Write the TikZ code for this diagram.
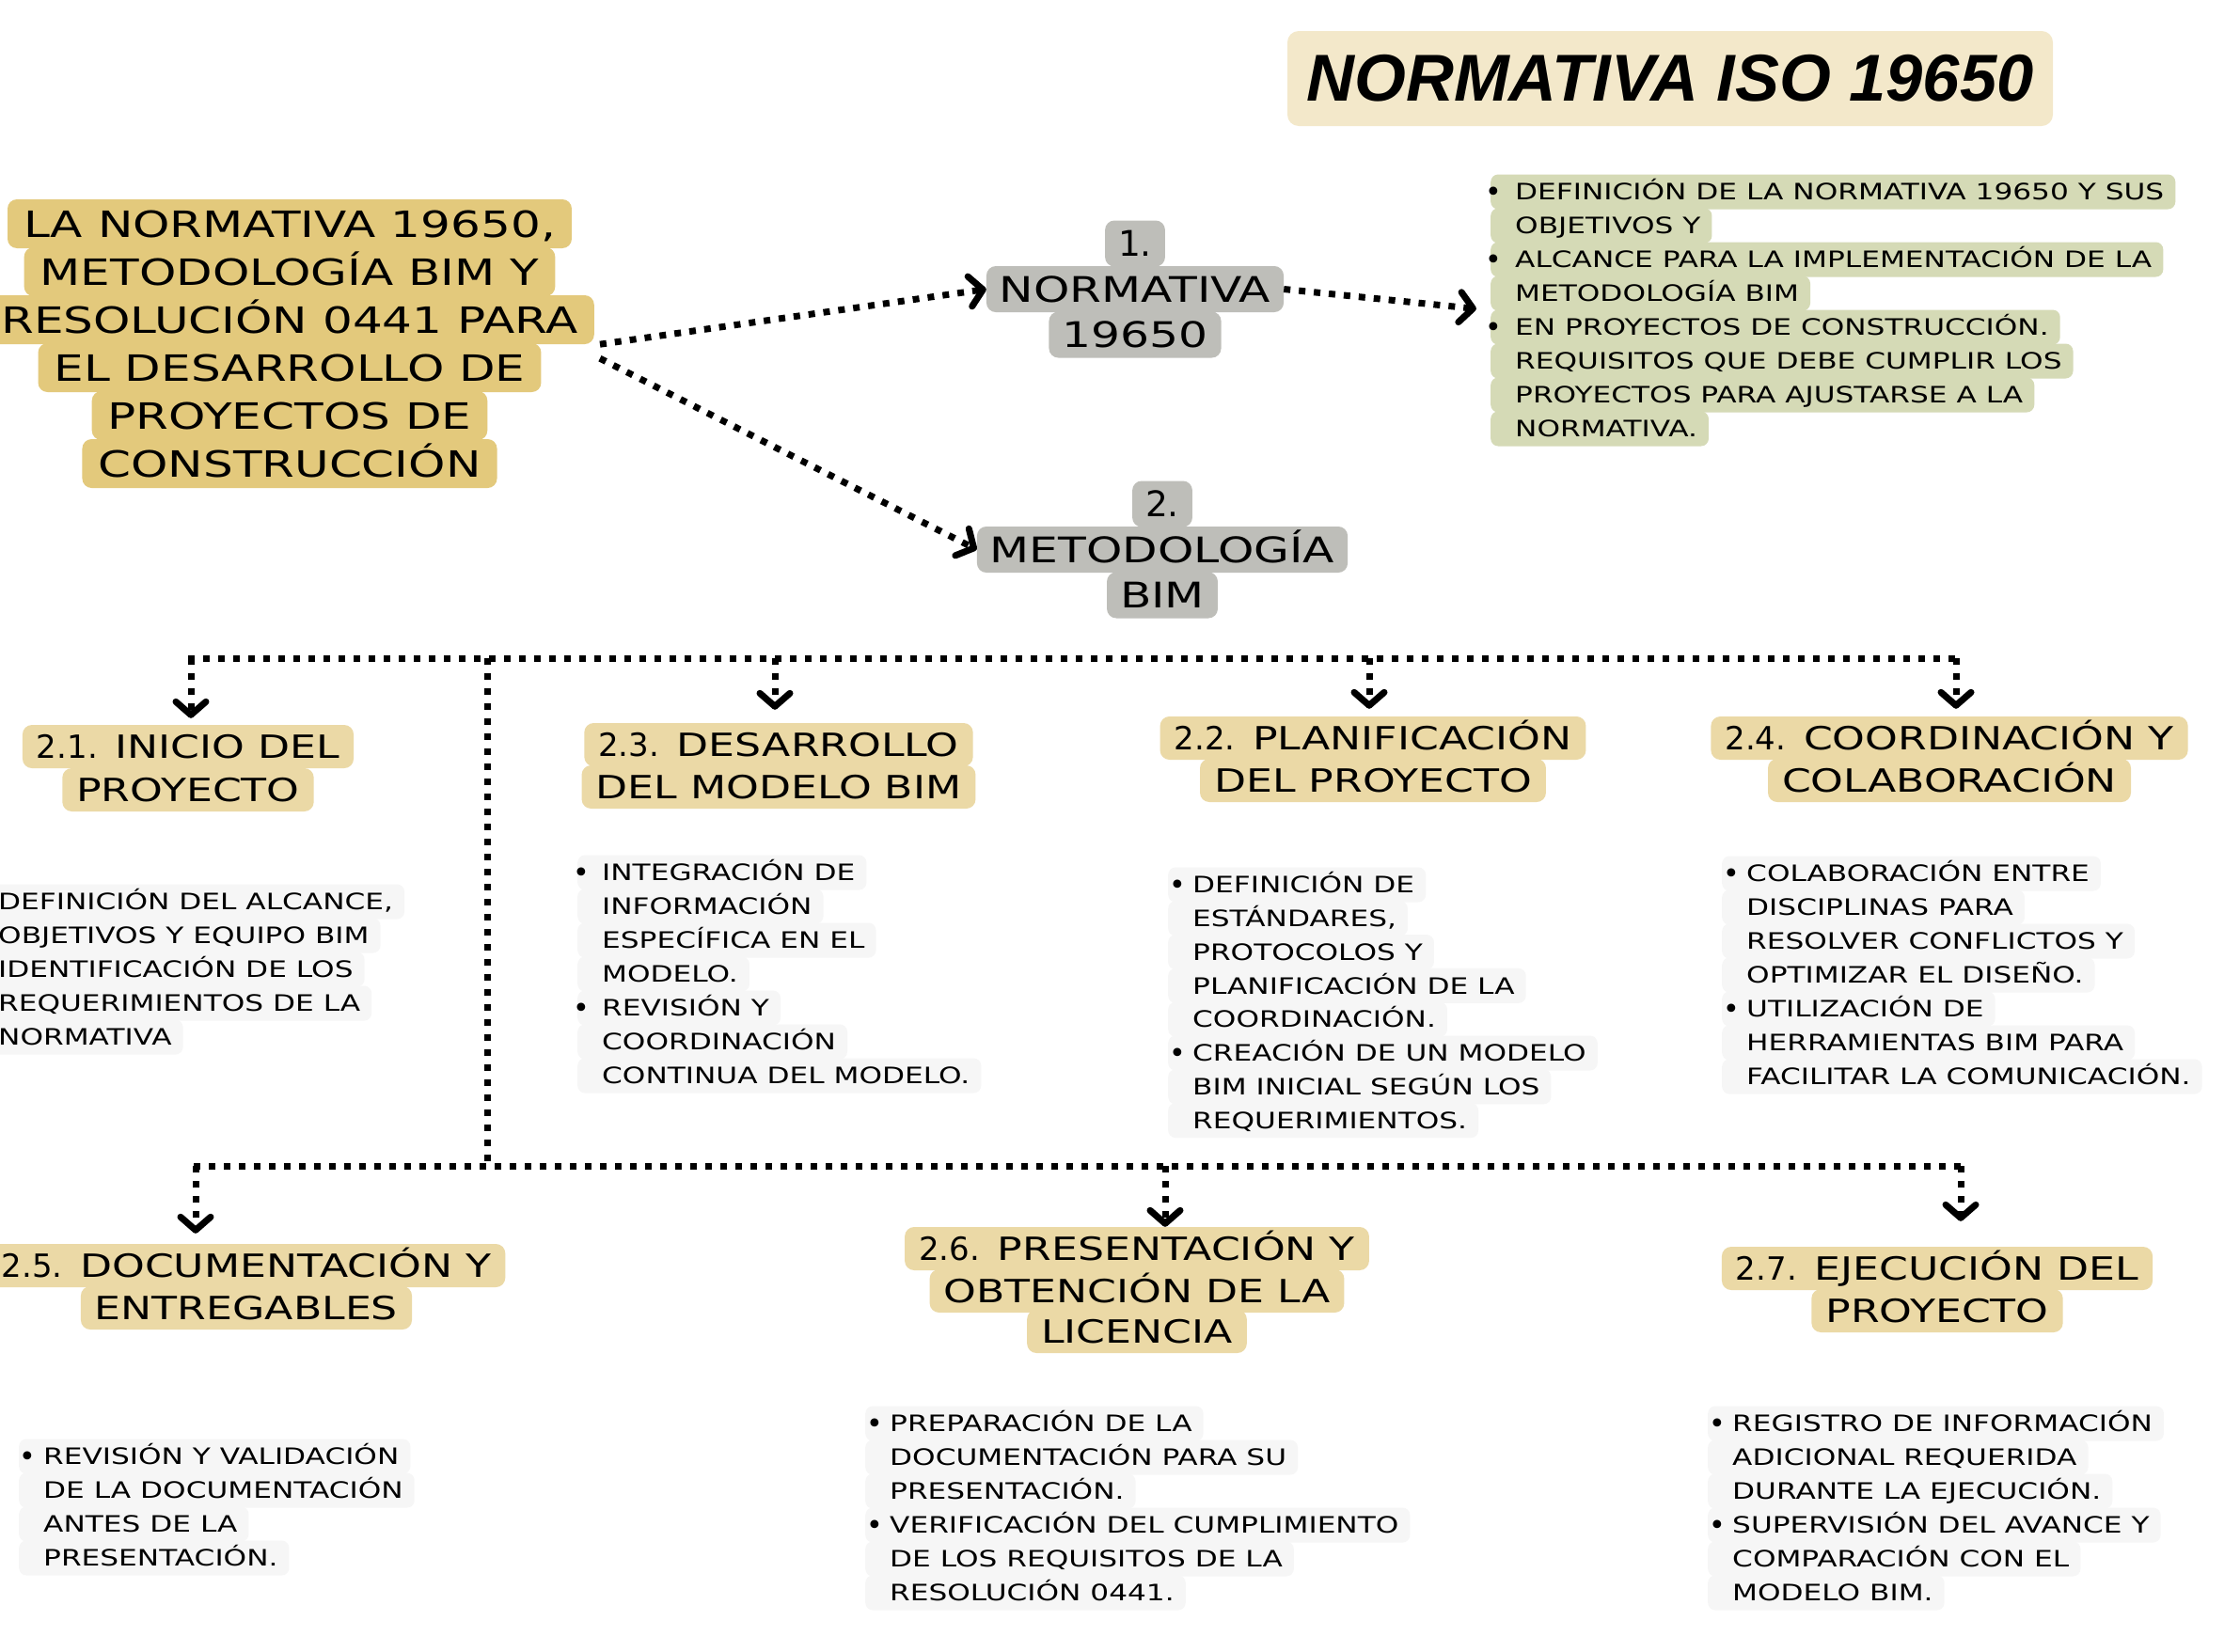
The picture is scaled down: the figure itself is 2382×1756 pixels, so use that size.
\documentclass[tikz,border=0pt]{standalone}
\usepackage{fontspec}
\setmainfont{DejaVu Sans}
\newfontfamily\wf[FakeStretch=1.3]{DejaVu Sans}
\newfontfamily\nf{DejaVu Sans}
\newfontfamily\tf{Liberation Sans}
\usetikzlibrary{arrows.meta,calc,fit}
\definecolor{titlebg}{HTML}{F3E8CA}
\definecolor{maingold}{HTML}{E3C97C}
\definecolor{graybox}{HTML}{BEBEB9}
\definecolor{greenbox}{HTML}{D5DAB6}
\definecolor{subgold}{HTML}{EBD9A6}
\definecolor{lightrow}{HTML}{F6F6F6}
\newcommand{\lrow}[5]{\node[lstrow,fill=#1] (#2) at ({#3-26},#4) {\hspace*{26pt}#5\hspace*{12pt}};}
\newcommand{\bdot}[3]{\node[bul] (#1) at (#2,#3) {•};}
\begin{document}
\begin{tikzpicture}[x=1pt,y=-1pt,
  rowbase/.style={rounded corners=10pt, inner ysep=0pt, text depth=0pt},
  mainrow/.style={rowbase, fill=maingold, inner xsep=17pt, minimum height=52pt, text height=28pt, font=\wf\fontsize{38.5}{40}\selectfont},
  grayrow/.style={rowbase, fill=graybox, inner xsep=14pt, minimum height=49pt, text height=27pt, font=\wf\fontsize{37.5}{40}\selectfont},
  subrow/.style={rowbase, fill=subgold, inner xsep=15pt, minimum height=46pt, text height=24.5pt, font=\wf\fontsize{34}{36}\selectfont},
  lstrow/.style={rowbase, rounded corners=8pt, anchor=west, inner xsep=0pt, minimum height=37pt, text height=17.5pt, font=\wf\fontsize{24}{26}\selectfont},
  bul/.style={inner sep=0pt, yshift=-4pt, font=\fontsize{30}{30}\selectfont},
  conn/.style={line width=7pt, dash pattern=on 7pt off 9pt, -{Straight Barb[length=14pt,width=32pt,round]}},
  trunk/.style={line width=7pt, dash pattern=on 7pt off 9pt},
]
\fill[white] (0,0) rectangle (2382,1756);
\useasboundingbox (0,0) rectangle (2382,1756);

% title
\node[fill=titlebg, rounded corners=12pt, minimum width=814pt, minimum height=101pt, inner sep=0pt,
  font=\tf\bfseries\itshape\fontsize{70.5}{72}\selectfont] (title) at (1776,83.5) {NORMATIVA ISO 19650};

% main node
\node[mainrow] (m1) at (308,238) {LA NORMATIVA 19650,};
\node[mainrow] (m2) at (308,289) {METODOLOGÍA BIM Y};
\node[mainrow] (m3) at (308,340) {RESOLUCIÓN 0441 PARA};
\node[mainrow] (m4) at (308,391) {EL DESARROLLO DE};
\node[mainrow] (m5) at (308,442) {PROYECTOS DE};
\node[mainrow] (m6) at (308,493) {CONSTRUCCIÓN};

% gray nodes
\node[grayrow] (n1a) at (1207,259) {\nf 1.};
\node[grayrow] (n1b) at (1207,307.5) {NORMATIVA};
\node[grayrow] (n1c) at (1207,356) {19650};
\node[grayrow] (n2a) at (1236,536) {\nf 2.};
\node[grayrow] (n2b) at (1236,584.5) {METODOLOGÍA};
\node[grayrow] (n2c) at (1236,633) {BIM};

% green list
\lrow{greenbox}{g1}{1611}{204}{DEFINICIÓN DE LA NORMATIVA 19650 Y SUS}
\lrow{greenbox}{g2}{1611}{240}{OBJETIVOS Y}
\lrow{greenbox}{g3}{1611}{276}{ALCANCE PARA LA IMPLEMENTACIÓN DE LA}
\lrow{greenbox}{g4}{1611}{312}{METODOLOGÍA BIM}
\lrow{greenbox}{g5}{1611}{348}{EN PROYECTOS DE CONSTRUCCIÓN.}
\lrow{greenbox}{g6}{1611}{384}{REQUISITOS QUE DEBE CUMPLIR LOS}
\lrow{greenbox}{g7}{1611}{420}{PROYECTOS PARA AJUSTARSE A LA}
\lrow{greenbox}{g8}{1611}{456}{NORMATIVA.}
\bdot{gb1}{1588}{203}
\bdot{gb3}{1588}{275}
\bdot{gb5}{1588}{347}
\node[fit=(g1)(g8), inner sep=0pt] (gbox) {};

% sub headings
\node[subrow] (h21a) at (200,794) {{\nf 2.1.} INICIO DEL};
\node[subrow] (h21b) at (200,840) {PROYECTO};
\node[subrow] (h23a) at (828,792) {{\nf 2.3.} DESARROLLO};
\node[subrow] (h23b) at (828,837) {DEL MODELO BIM};
\node[subrow] (h22a) at (1460,785) {{\nf 2.2.} PLANIFICACIÓN};
\node[subrow] (h22b) at (1460,830) {DEL PROYECTO};
\node[subrow] (h24a) at (2073,785) {{\nf 2.4.} COORDINACIÓN Y};
\node[subrow] (h24b) at (2073,830) {COLABORACIÓN};
\node[subrow] (h25a) at (262,1346) {{\nf 2.5.} DOCUMENTACIÓN Y};
\node[subrow] (h25b) at (262,1391) {ENTREGABLES};
\node[subrow] (h26a) at (1209,1328) {{\nf 2.6.} PRESENTACIÓN Y};
\node[subrow] (h26b) at (1209,1373) {OBTENCIÓN DE LA};
\node[subrow] (h26c) at (1209,1416) {LICENCIA};
\node[subrow] (h27a) at (2060,1349) {{\nf 2.7.} EJECUCIÓN DEL};
\node[subrow] (h27b) at (2060,1394) {PROYECTO};

% 2.1 list
\lrow{lightrow}{r21a}{-2}{959}{DEFINICIÓN DEL ALCANCE,}
\lrow{lightrow}{r21b}{-2}{995}{OBJETIVOS Y EQUIPO BIM}
\lrow{lightrow}{r21c}{-2}{1031}{IDENTIFICACIÓN DE LOS}
\lrow{lightrow}{r21d}{-2}{1067}{REQUERIMIENTOS DE LA}
\lrow{lightrow}{r21e}{-2}{1103}{NORMATIVA}

% 2.3 list
\lrow{lightrow}{r23a}{640}{928}{INTEGRACIÓN DE}
\lrow{lightrow}{r23b}{640}{964}{INFORMACIÓN}
\lrow{lightrow}{r23c}{640}{1000}{ESPECÍFICA EN EL}
\lrow{lightrow}{r23d}{640}{1036}{MODELO.}
\lrow{lightrow}{r23e}{640}{1072}{REVISIÓN Y}
\lrow{lightrow}{r23f}{640}{1108}{COORDINACIÓN}
\lrow{lightrow}{r23g}{640}{1144}{CONTINUA DEL MODELO.}
\bdot{b23a}{618}{927}
\bdot{b23e}{618}{1071}

% 2.2 list
\lrow{lightrow}{r22a}{1268}{941}{DEFINICIÓN DE}
\lrow{lightrow}{r22b}{1268}{976.8}{ESTÁNDARES,}
\lrow{lightrow}{r22c}{1268}{1012.6}{PROTOCOLOS Y}
\lrow{lightrow}{r22d}{1268}{1048.4}{PLANIFICACIÓN DE LA}
\lrow{lightrow}{r22e}{1268}{1084.2}{COORDINACIÓN.}
\lrow{lightrow}{r22f}{1268}{1120}{CREACIÓN DE UN MODELO}
\lrow{lightrow}{r22g}{1268}{1155.8}{BIM INICIAL SEGÚN LOS}
\lrow{lightrow}{r22h}{1268}{1191.6}{REQUERIMIENTOS.}
\bdot{b22a}{1252}{940}
\bdot{b22f}{1252}{1119}

% 2.4 list
\lrow{lightrow}{r24a}{1857}{929}{COLABORACIÓN ENTRE}
\lrow{lightrow}{r24b}{1857}{965}{DISCIPLINAS PARA}
\lrow{lightrow}{r24c}{1857}{1001}{RESOLVER CONFLICTOS Y}
\lrow{lightrow}{r24d}{1857}{1037}{OPTIMIZAR EL DISEÑO.}
\lrow{lightrow}{r24e}{1857}{1073}{UTILIZACIÓN DE}
\lrow{lightrow}{r24f}{1857}{1109}{HERRAMIENTAS BIM PARA}
\lrow{lightrow}{r24g}{1857}{1145}{FACILITAR LA COMUNICACIÓN.}
\bdot{b24a}{1841}{928}
\bdot{b24e}{1841}{1072}

% 2.5 list
\lrow{lightrow}{r25a}{46}{1549}{REVISIÓN Y VALIDACIÓN}
\lrow{lightrow}{r25b}{46}{1585}{DE LA DOCUMENTACIÓN}
\lrow{lightrow}{r25c}{46}{1621}{ANTES DE LA}
\lrow{lightrow}{r25d}{46}{1657}{PRESENTACIÓN.}
\bdot{b25a}{29}{1548}

% 2.6 list
\lrow{lightrow}{r26a}{946}{1514}{PREPARACIÓN DE LA}
\lrow{lightrow}{r26b}{946}{1550}{DOCUMENTACIÓN PARA SU}
\lrow{lightrow}{r26c}{946}{1586}{PRESENTACIÓN.}
\lrow{lightrow}{r26d}{946}{1622}{VERIFICACIÓN DEL CUMPLIMIENTO}
\lrow{lightrow}{r26e}{946}{1658}{DE LOS REQUISITOS DE LA}
\lrow{lightrow}{r26f}{946}{1694}{RESOLUCIÓN 0441.}
\bdot{b26a}{930}{1513}
\bdot{b26d}{930}{1621}

% 2.7 list
\lrow{lightrow}{r27a}{1842}{1514}{REGISTRO DE INFORMACIÓN}
\lrow{lightrow}{r27b}{1842}{1550}{ADICIONAL REQUERIDA}
\lrow{lightrow}{r27c}{1842}{1586}{DURANTE LA EJECUCIÓN.}
\lrow{lightrow}{r27d}{1842}{1622}{SUPERVISIÓN DEL AVANCE Y}
\lrow{lightrow}{r27e}{1842}{1658}{COMPARACIÓN CON EL}
\lrow{lightrow}{r27f}{1842}{1694}{MODELO BIM.}
\bdot{b27a}{1826}{1513}
\bdot{b27d}{1826}{1621}

% top connectors
\coordinate (s1) at ($(m3.south east)+(6,0)$);
\coordinate (s2) at ($(m3.south east)+(6,15)$);
\draw[conn] (s1) -- (n1b.west);
\draw[conn] (s2) -- (n2b.west);
\draw[conn, shorten >=15pt] (n1b.east) -- (gbox.west);

% trunk
\coordinate (tl) at (200,700);
\coordinate (tr) at (2082,700);
\coordinate (vt) at (518,700);
\coordinate (vb) at (518,1240);
\coordinate (bl) at (206,1240);
\coordinate (br) at (2086,1240);
\draw[trunk] (tl) -- (tr);
\draw[trunk] (vt) -- (vb);
\draw[trunk] (bl) -- (br);

\coordinate (k21) at (203,700);
\coordinate (k23) at (824,700);
\coordinate (k22) at (1456,700);
\coordinate (k24) at (2080,700);
\coordinate (k25) at (208,1240);
\coordinate (k26) at (1239,1240);
\coordinate (k27) at (2085,1240);
\draw[conn, shorten >=7pt] (k21) -- (k21 |- h21a.north);
\draw[conn, shorten >=14pt] (k23) -- (k23 |- h23a.north);
\draw[conn, shorten >=8pt] (k22) -- (k22 |- h22a.north);
\draw[conn, shorten >=8pt] (k24) -- (k24 |- h24a.north);
\draw[conn, shorten >=11pt] (k25) -- (k25 |- h25a.north);
\draw[conn] (k26) -- (k26 |- h26a.north);
\draw[conn, shorten >=27pt] (k27) -- (k27 |- h27a.north);
\end{tikzpicture}
\end{document}
